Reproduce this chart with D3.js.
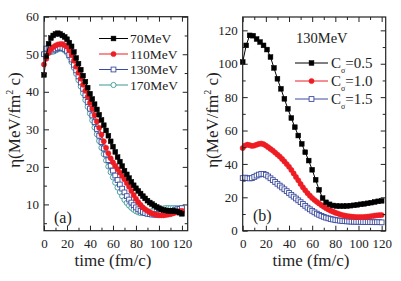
<!DOCTYPE html>
<html><head><meta charset="utf-8">
<script src="https://cdn.jsdelivr.net/npm/d3@7"></script>
<style>
html,body{margin:0;padding:0;background:#fff;}
svg, svg text{font-family:'Liberation Serif','Times New Roman',Times,serif !important;}
</style></head>
<body><svg id="c" width="401" height="281"></svg>
<script>
// ---------- Panel (a) data ----------
const timesA = d3.range(0, 121, 2);
const a70 = [44.5,49.5,52.8,54.3,55.0,55.4,55.6,55.4,55.0,54.6,54.0,53.1,52.1,50.6,49.0,47.5,45.9,44.3,42.7,41.1,39.5,38.1,36.7,35.3,33.9,32.5,31.1,29.7,28.3,26.8,25.4,24.0,22.6,21.4,20.2,19.0,18.0,17.0,16.0,15.1,14.3,13.6,12.9,12.2,11.6,11.0,10.5,10.1,9.7,9.3,9.0,8.7,8.5,8.4,8.3,8.3,8.3,8.2,8.1,7.8,7.5];
const a110 = [47.3,48.8,50.3,51.3,51.9,52.3,52.6,52.7,52.7,52.4,52.0,51.0,49.8,48.3,46.7,45.1,43.5,41.9,40.3,38.7,37.1,35.5,33.8,32.1,30.4,28.6,26.8,25.1,23.6,22.3,21.2,20.3,19.4,18.5,17.6,16.7,15.7,14.7,13.6,12.5,11.5,10.6,9.9,9.2,8.7,8.3,7.9,7.6,7.4,7.2,7.1,7.1,7.1,7.2,7.3,7.4,7.6,7.8,8.0,8.2,8.3];
const a130 = [50.0,51.5,51.7,51.2,51.0,51.3,51.6,51.8,51.7,51.4,50.9,49.8,48.6,47.2,45.7,44.1,42.5,40.8,39.1,37.3,35.5,33.7,31.9,30.1,28.3,26.6,24.9,23.3,21.8,20.3,19.0,17.7,16.5,15.3,14.2,13.2,12.2,11.3,10.5,9.8,9.2,8.7,8.3,8.0,7.7,7.5,7.4,7.3,7.3,7.3,7.4,7.5,7.6,7.8,8.0,8.1,8.3,8.5,8.7,8.8,9.0];
const a170 = [50.0,50.6,50.8,50.6,50.7,51.0,51.3,51.5,51.4,51.0,50.4,49.3,47.9,46.4,44.8,43.1,41.4,39.6,37.8,36.0,34.2,32.4,30.5,28.7,26.9,25.1,23.4,21.7,20.1,18.6,17.2,15.8,14.5,13.3,12.2,11.2,10.4,9.7,9.1,8.6,8.2,7.9,7.7,7.7,7.7,7.8,8.0,8.2,8.4,8.6,8.7,8.8,8.9,9.0,9.0,9.0,9.0,9.0,9.0,9.0,9.0];
const labelsA = ["70MeV","110MeV","130MeV","170MeV"];

// ---------- Panel (b) data ----------
const timesB05 = d3.range(0, 121, 3);
const b05 = [101,111,117,116.8,114.8,113,111,108.5,104,97.5,91,85,79,73,67.5,62,57,52,47,42,36.5,30.5,24.5,19.5,17,15.8,15.1,14.8,14.7,14.7,14.8,15,15.2,15.5,15.8,16.1,16.4,16.8,17.2,17.6,17.9];
const timesB = d3.range(0, 121, 2);
const b10 = [49.5,51,51.5,51.2,50.8,51,51.5,52,52.2,51.8,51,50,49,48,46.8,45.6,44.4,43,41.5,39.9,38.3,36.4,34.3,32.2,30.2,28,26,24.2,22.5,21,19.6,18.4,17.3,16.3,15.3,14.4,13.5,12.7,12,11.4,10.8,10.3,9.8,9.4,9.1,8.8,8.6,8.4,8.3,8.2,8.2,8.2,8.2,8.3,8.4,8.6,8.8,9,9.2,9.3,9.4];
const b15 = [31.5,31.8,31.5,31.3,31.5,32.2,33,33.6,34,34,33.5,32.5,31.4,30.3,29.2,28.1,27,25.9,24.8,23.7,22.6,21.5,20.4,19.3,18.2,17.1,16,14.9,13.8,12.8,11.9,11,10.2,9.5,8.9,8.3,7.8,7.4,7,6.7,6.4,6.2,6,5.8,5.7,5.6,5.5,5.4,5.4,5.3,5.3,5.3,5.2,5.2,5.2,5.2,5.1,5.1,5.1,5.1,5];
const labelsB = ["0.5","1.0","1.5"];

const xTicksMajor = [0,20,40,60,80,100,120];
const xTicksMinor = [10,30,50,70,90,110];
const yTicksA = [10,20,30,40,50,60];
const yMinorA = [5,15,25,35,45,55];
const yTicksB = [0,20,40,60,80,100,120];
const yMinorB = [10,30,50,70,90,110];

const FONT = "'Liberation Serif','Times New Roman',Times,serif";
const COL = {black:"#000", red:"#ee1d23", blue:"#3b4c9e", teal:"#3a9797"};
const svg = d3.select("#c").style("font-family", FONT);

function txt(g) { return g.append("text").style("font-family", FONT).attr("fill","#222"); }

function frame(g, x, y, xMaj, xMin, yMaj, yMin) {
  const [x0,x1] = x.range(), [y0,y1] = y.range();
  const ax = "#222";
  const mk = (axis, tr, vals, size, labels, pad) => {
    const a = axis.tickValues(vals).tickSize(-size).tickSizeOuter(0).tickPadding(pad||0);
    if (!labels) a.tickFormat("");
    const gg = g.append("g").attr("transform", tr).call(a);
    gg.attr("font-family", null).attr("font-size", null);
    gg.select(".domain").remove();
    gg.selectAll("line").attr("stroke", ax).attr("stroke-width", 1);
    gg.selectAll("text").attr("font-size", 13).attr("fill","#222").style("font-family", FONT);
    return gg;
  };
  mk(d3.axisBottom(x), `translate(0,${y0})`, xMaj, 5, true, 8);
  mk(d3.axisBottom(x), `translate(0,${y0})`, xMin, 3, false);
  mk(d3.axisTop(x), `translate(0,${y1})`, xMaj, 5, false);
  mk(d3.axisTop(x), `translate(0,${y1})`, xMin, 3, false);
  mk(d3.axisLeft(y), `translate(${x0},0)`, yMaj, 5, true, 5);
  mk(d3.axisLeft(y), `translate(${x0},0)`, yMin, 3, false);
  mk(d3.axisRight(y), `translate(${x1},0)`, yMaj, 5, false);
  mk(d3.axisRight(y), `translate(${x1},0)`, yMin, 3, false);
  g.append("rect").attr("x", x0).attr("y", y1).attr("width", x1-x0).attr("height", y0-y1)
    .attr("fill","none").attr("stroke", ax).attr("stroke-width", 1.2);
}

function series(g, x, y, ts, vs, color, shape, filled) {
  const pts = ts.map((t,i)=>[t, vs[i]]);
  g.append("path").datum(pts).attr("fill","none").attr("stroke", color).attr("stroke-width",1)
    .attr("d", d3.line().x(d=>x(d[0])).y(d=>y(d[1])));
  marker(g, pts.map(d=>[x(d[0]), y(d[1])]), color, shape, filled);
}
function marker(g, pos, color, shape, filled) {
  const s = 4.8;
  if (shape === "sq") {
    g.selectAll(null).data(pos).enter().append("rect")
      .attr("x", d=>d[0]-s/2).attr("y", d=>d[1]-s/2).attr("width", s).attr("height", s)
      .attr("fill", filled ? color : "#fff").attr("stroke", color).attr("stroke-width", filled?0.5:0.9);
  } else {
    g.selectAll(null).data(pos).enter().append("circle")
      .attr("cx", d=>d[0]).attr("cy", d=>d[1]).attr("r", 2.6)
      .attr("fill", filled ? color : "#fff").attr("stroke", color).attr("stroke-width", filled?0.5:0.9);
  }
}
function ytitle(x, y) {
  const t = txt(svg).attr("transform", `translate(${x},${y}) rotate(-90)`)
    .attr("text-anchor","middle").attr("font-size",17);
  t.append("tspan").text("η(MeV/fm");
  t.append("tspan").attr("font-size",10).attr("dy",-7).text("2");
  t.append("tspan").attr("dy",7).text(" c)");
}

// ---------- Panel (a) ----------
const xA = d3.scaleLinear().domain([0,125]).range([44,187.7]);
const yA = d3.scaleLinear().domain([3,60]).range([230.7,16.7]);
const gA = svg.append("g");
const specA = [[a70,COL.black,"sq",true],[a110,COL.red,"ci",true],[a130,COL.blue,"sq",false],[a170,COL.teal,"ci",false]];
specA.slice().reverse().forEach(s=>series(gA, xA, yA, timesA, s[0], s[1], s[2], s[3]));
frame(gA, xA, yA, xTicksMajor, xTicksMinor, yTicksA, yMinorA);
specA.forEach((s,i)=>{
  const yy = 38.5 + i*15.5;
  gA.append("line").attr("x1",99).attr("x2",128).attr("y1",yy).attr("y2",yy).attr("stroke",s[1]).attr("stroke-width",1);
  marker(gA, [[113.5,yy]], s[1], s[2], s[3]);
  txt(gA).attr("x",130).attr("y",yy).attr("dy","0.35em").attr("font-size",13.5).text(labelsA[i]);
});
txt(gA).attr("x",54).attr("y",223).attr("font-size",16).text("(a)");
txt(svg).attr("x",113).attr("y",266).attr("text-anchor","middle").attr("font-size",17).text("time (fm/c)");
ytitle(20, 120);

// ---------- Panel (b) ----------
const xB = d3.scaleLinear().domain([0,123.5]).range([242.7,385.7]);
const yB = d3.scaleLinear().domain([0,128]).range([230.7,17]);
const gB = svg.append("g");
series(gB, xB, yB, timesB, b15, COL.blue, "sq", false);
series(gB, xB, yB, timesB, b10, COL.red, "ci", true);
series(gB, xB, yB, timesB05, b05, COL.black, "sq", true);
frame(gB, xB, yB, xTicksMajor, xTicksMinor, yTicksB, yMinorB);
txt(gB).attr("x",296).attr("y",38).attr("dy","0.35em").attr("font-size",14.5).text("130MeV");
const specB = [[COL.black,"sq",true],[COL.red,"ci",true],[COL.blue,"sq",false]];
specB.forEach((s,i)=>{
  const yy = 63 + i*18;
  gB.append("line").attr("x1",295).attr("x2",328).attr("y1",yy).attr("y2",yy).attr("stroke",s[0]).attr("stroke-width",1);
  marker(gB, [[311.5,yy]], s[0], s[1], s[2]);
  const t = txt(gB).attr("x",331).attr("y",yy).attr("dy","0.35em").attr("font-size",15);
  t.append("tspan").text("C");
  t.append("tspan").attr("font-size",8).attr("dy",5).text("σ");
  t.append("tspan").attr("dy",-5).text("=" + labelsB[i]);
});
txt(gB).attr("x",253).attr("y",221).attr("font-size",16).text("(b)");
txt(svg).attr("x",311).attr("y",266).attr("text-anchor","middle").attr("font-size",17).text("time (fm/c)");
ytitle(218, 120);
</script></body></html>
